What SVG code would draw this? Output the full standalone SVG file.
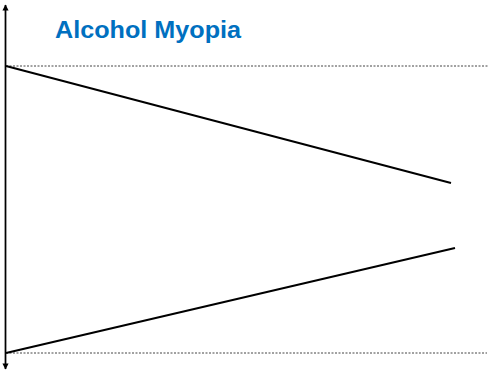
<svg xmlns="http://www.w3.org/2000/svg" width="488" height="372" viewBox="0 0 488 372">
<style>
.axis{stroke:#000;stroke-width:1.75;fill:none}
.line{stroke:#000;stroke-width:2;fill:none}
.dot{stroke:#444;stroke-width:1;stroke-dasharray:2,1.5;fill:none}
.title{font-family:"Liberation Sans",Arial,sans-serif;font-weight:bold;font-size:23px;fill:#0070C0}
</style>
<defs>
<marker id="arr" viewBox="0 0 10 10" refX="9" refY="5" markerWidth="3.5" markerHeight="3.5" orient="auto-start-reverse">
<path d="M0,0 L10,5 L0,10 z" fill="#000"/>
</marker>
</defs>
<g id="title"><text class="title" x="55" y="38" textLength="186" lengthAdjust="spacingAndGlyphs">Alcohol Myopia</text></g>
<g id="connectors">
<line class="axis" x1="5.5" y1="369" x2="5.5" y2="5" marker-start="url(#arr)" marker-end="url(#arr)"/>
<line class="dot" x1="6" y1="66" x2="488" y2="66"/>
<line class="dot" x1="6" y1="353" x2="487" y2="353"/>
<line class="line" x1="6" y1="66" x2="451" y2="183"/>
<line class="line" x1="6" y1="353" x2="455" y2="248"/>
</g>
</svg>
